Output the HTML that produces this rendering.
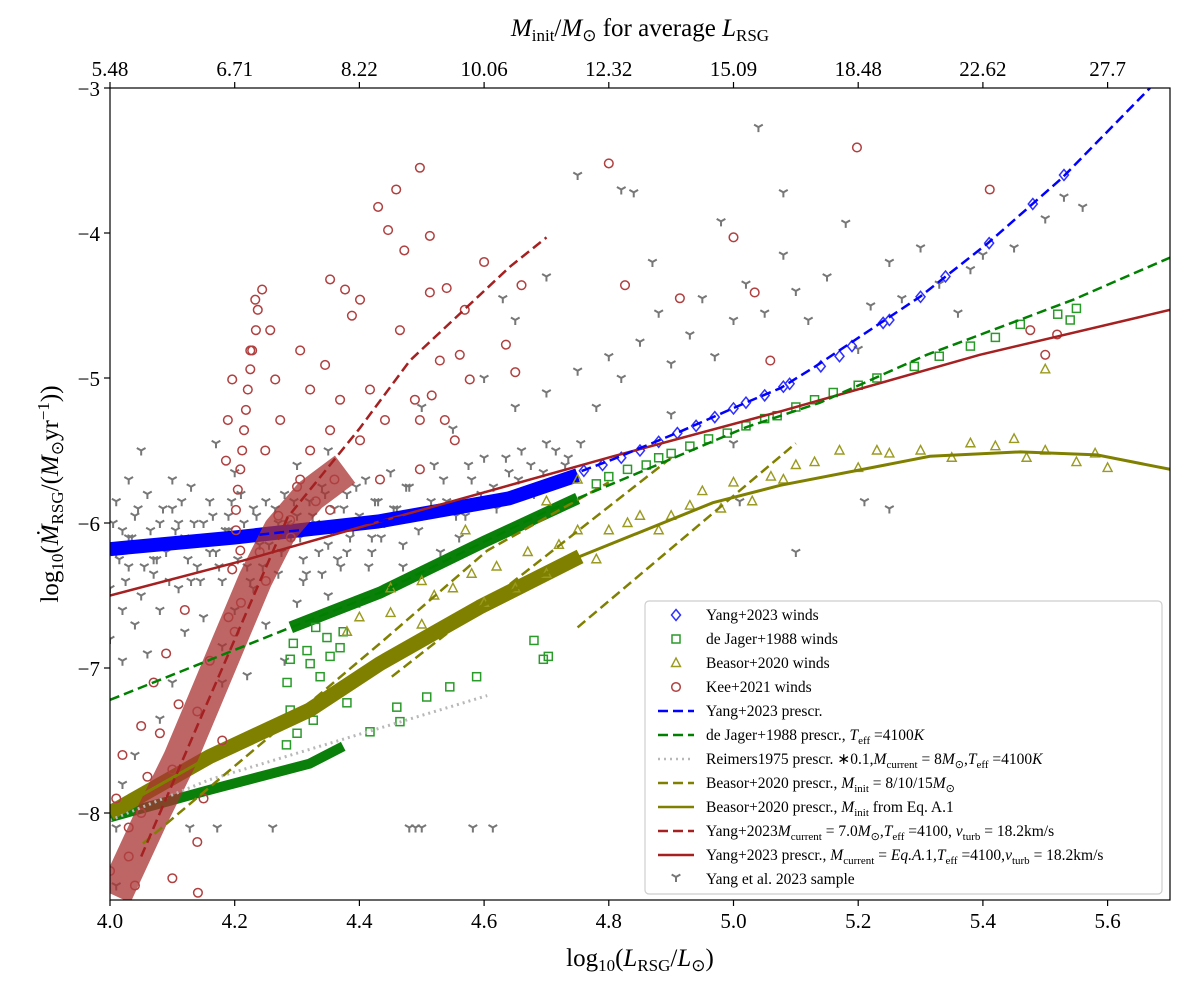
<!DOCTYPE html>
<html><head><meta charset="utf-8"><style>
html,body{margin:0;padding:0;background:#fff;}
svg{display:block;font-family:"Liberation Serif",serif;}
</style></head><body>
<svg id="chart" width="1200" height="1000" viewBox="0 0 1200 1000" xmlns="http://www.w3.org/2000/svg">
<defs><clipPath id="plotclip"><rect x="110" y="88" width="1060" height="812"/></clipPath></defs>
<rect x="0" y="0" width="1200" height="1000" fill="#fff"/>
<g id="marks" clip-path="url(#plotclip)"></g>
<rect x="110" y="88" width="1060" height="812" fill="none" stroke="#000" stroke-width="1.2"/>
<g id="axes"></g>
<text x="640" y="966" font-size="25" text-anchor="middle">log<tspan font-size="17" dy="5">10</tspan><tspan dy="-5">(</tspan><tspan font-style="italic">L</tspan><tspan font-size="17" dy="5">RSG</tspan><tspan dy="-5">/</tspan><tspan font-style="italic">L</tspan><tspan font-size="17" dy="5">⊙</tspan><tspan dy="-5">)</tspan></text>
<text x="640" y="36" font-size="25" text-anchor="middle"><tspan font-style="italic">M</tspan><tspan font-size="17" dy="5">init</tspan><tspan dy="-5">/</tspan><tspan font-style="italic">M</tspan><tspan font-size="17" dy="5">⊙</tspan><tspan dy="-5"> for average </tspan><tspan font-style="italic">L</tspan><tspan font-size="17" dy="5">RSG</tspan></text>
<text transform="translate(58,494) rotate(-90)" font-size="25" text-anchor="middle">log<tspan font-size="17" dy="5">10</tspan><tspan dy="-5">(</tspan><tspan font-style="italic">Ṁ</tspan><tspan font-size="17" dy="5">RSG</tspan><tspan dy="-5">/(</tspan><tspan font-style="italic">M</tspan><tspan font-size="17" dy="5">⊙</tspan><tspan dy="-5">yr</tspan><tspan font-size="17" dy="-9">−1</tspan><tspan dy="9">))</tspan></text>
<g id="legend"></g>
</svg>
<script>
// ---- data ----
const xTicks = [4.0,4.2,4.4,4.6,4.8,5.0,5.2,5.4,5.6];
const xTickLabels = ["4.0","4.2","4.4","4.6","4.8","5.0","5.2","5.4","5.6"];
const topTickLabels = ["5.48","6.71","8.22","10.06","12.32","15.09","18.48","22.62","27.7"];
const yTicks = [-3,-4,-5,-6,-7,-8];
const yTickLabels = ["−3","−4","−5","−6","−7","−8"];

const yangPrescL = [4.0,4.2,4.43,4.64,4.807,4.914,5.02,5.075,5.128,5.243,5.299,5.408,5.527,5.668];
const yangPrescV = [-6.18,-6.1,-5.99,-5.83,-5.56,-5.37,-5.17,-5.07,-4.93,-4.6,-4.44,-4.07,-3.62,-3.0];
const yangBandL = [4.0,4.2,4.43,4.64,4.75];
const yangBandV = [-6.18,-6.1,-5.99,-5.83,-5.67];
const yangDiamondL = [4.76,4.79,4.82,4.85,4.88,4.91,4.94,4.97,5.0,5.02,5.05,5.08,5.09,5.14,5.17,5.19,5.24,5.25,5.3,5.34,5.41,5.48,5.53];
const yangDiamondV = [-5.64,-5.6,-5.55,-5.5,-5.44,-5.38,-5.33,-5.27,-5.21,-5.17,-5.12,-5.06,-5.04,-4.92,-4.85,-4.78,-4.62,-4.6,-4.44,-4.3,-4.07,-3.8,-3.6];

const yangEqL = [4.0,4.213,4.433,4.807,5.075,5.395,5.7];
const yangEqV = [-6.5,-6.26,-5.99,-5.54,-5.23,-4.84,-4.53];
const yang7L = [4.05,4.15,4.285,4.4,4.481,4.642,4.7];
const yang7V = [-8.3,-7.3,-5.96,-5.35,-4.88,-4.23,-4.03];

const jagerPrescL = [4.0,4.29,4.433,4.70,4.861,5.02,5.139,5.31,5.545,5.7];
const jagerPrescV = [-7.22,-6.72,-6.48,-5.92,-5.63,-5.34,-5.17,-4.84,-4.46,-4.17];
const jagerBandL = [4.29,4.433,4.6,4.75];
const jagerBandV = [-6.72,-6.48,-6.13,-5.83];
const jagerLowBandL = [4.0,4.16,4.32,4.374];
const jagerLowBandV = [-8.03,-7.84,-7.66,-7.54];
const jagerSqL = [4.78,4.8,4.83,4.86,4.88,4.9,4.93,4.96,4.99,5.02,5.05,5.07,5.1,5.13,5.16,5.2,5.23,5.29,5.33,5.38,5.42,5.46,5.52,5.55,5.54,
  4.417,4.46,4.508,4.545,4.588,4.465,4.33,4.348,4.374,4.316,4.321,4.337,4.38,4.326,4.30,4.283,4.289,4.284,4.289,4.294,4.353,4.369,4.68,4.695,4.703];
const jagerSqV = [-5.73,-5.68,-5.63,-5.6,-5.55,-5.52,-5.47,-5.42,-5.38,-5.33,-5.28,-5.26,-5.2,-5.15,-5.1,-5.05,-5.0,-4.92,-4.85,-4.78,-4.72,-4.63,-4.56,-4.52,-4.6,
  -7.44,-7.27,-7.2,-7.13,-7.06,-7.37,-6.72,-6.79,-6.75,-6.88,-6.97,-7.06,-7.24,-7.36,-7.45,-7.53,-7.29,-7.1,-6.94,-6.83,-6.92,-6.86,-6.81,-6.94,-6.92];

const reimersL = [4.0,4.16,4.605];
const reimersV = [-8.05,-7.77,-7.19];

const beasorEqL = [4.0,4.16,4.32,4.433,4.593,4.754,4.967,5.075,5.315,5.46,5.583,5.7];
const beasorEqV = [-8.0,-7.61,-7.29,-6.97,-6.58,-6.23,-5.86,-5.74,-5.54,-5.51,-5.53,-5.63];
const beasorBandL = [4.0,4.16,4.32,4.433,4.593,4.754];
const beasorBandV = [-8.0,-7.61,-7.29,-6.97,-6.58,-6.23];
const beasor8L = [4.053,4.433,4.605,4.80];
const beasor8V = [-8.21,-6.83,-6.19,-5.72];
const beasor10L = [4.452,4.9];
const beasor10V = [-7.06,-5.55];
const beasor15L = [4.75,5.10];
const beasor15V = [-6.72,-5.45];
const beasorTriL = [4.45,4.5,4.52,4.55,4.58,4.6,4.62,4.65,4.67,4.7,4.72,4.75,4.78,4.8,4.83,4.85,4.88,4.9,4.93,4.95,4.98,5.0,5.03,5.06,5.08,5.1,5.13,5.17,5.2,5.23,5.25,5.3,5.35,5.38,5.42,5.45,5.47,5.5,5.55,5.58,5.6,5.5,4.7,4.75,4.57,4.5,4.45,4.4,4.38];
const beasorTriV = [-6.62,-6.7,-6.5,-6.45,-6.35,-6.55,-6.3,-6.45,-6.2,-6.35,-6.15,-6.05,-6.25,-6.05,-6.0,-5.95,-6.05,-5.95,-5.88,-5.78,-5.9,-5.72,-5.85,-5.68,-5.7,-5.6,-5.58,-5.5,-5.62,-5.5,-5.52,-5.5,-5.55,-5.45,-5.47,-5.42,-5.55,-5.5,-5.58,-5.52,-5.62,-4.94,-5.85,-5.7,-6.05,-6.4,-6.45,-6.65,-6.75];

const keeBandL = [4.008,4.064,4.112,4.152,4.192,4.233,4.273,4.321,4.377];
const keeBandV = [-8.57,-8.05,-7.63,-7.22,-6.81,-6.39,-6.05,-5.81,-5.63];
const keeL = [4.43,4.459,4.497,4.446,4.472,4.513,4.54,4.569,4.513,4.60,4.66,4.635,4.65,4.80,4.826,4.914,5.0,5.034,5.059,5.198,5.411,5.476,5.50,5.519,
  4.561,4.577,4.529,4.516,4.489,4.465,4.401,4.377,4.353,4.388,4.345,4.305,4.321,4.369,4.417,4.441,4.497,4.537,4.553,4.401,4.353,4.321,4.305,4.273,4.257,4.265,4.233,4.225,4.249,4.141,4.289,4.353,4.433,4.497,
  4.244,4.237,4.234,4.228,4.225,4.221,4.218,4.215,4.212,4.209,4.205,4.202,4.202,4.209,4.196,4.189,4.196,4.186,
  4.01,4.02,4.03,4.05,4.07,4.09,4.12,4.0,4.04,4.1,4.15,4.18,4.21,4.14,4.06,
  4.03,4.08,4.11,4.16,4.19,4.24,4.27,4.3,4.05,4.1,4.14,4.2,4.25,4.29,4.33,4.36];
const keeV = [-3.82,-3.70,-3.55,-3.98,-4.12,-4.02,-4.38,-4.53,-4.41,-4.2,-4.36,-4.77,-4.96,-3.52,-4.36,-4.45,-4.03,-4.41,-4.88,-3.41,-3.70,-4.67,-4.84,-4.70,
  -4.84,-5.01,-4.88,-5.12,-5.15,-4.67,-4.46,-4.39,-4.32,-4.57,-4.91,-4.81,-5.08,-5.15,-5.08,-5.29,-5.29,-5.29,-5.43,-5.43,-5.36,-5.50,-5.70,-5.29,-4.67,-5.01,-4.46,-4.81,-5.50,-8.55,-5.98,-5.91,-5.70,-5.63,
  -4.39,-4.53,-4.67,-4.81,-4.94,-5.08,-5.22,-5.36,-5.50,-5.63,-5.77,-5.91,-6.05,-6.19,-6.32,-5.29,-5.01,-5.57,
  -7.9,-7.6,-8.3,-7.4,-7.1,-6.9,-6.6,-8.4,-8.5,-8.45,-7.9,-7.5,-6.55,-8.2,-7.75,
  -8.1,-7.45,-7.25,-6.95,-6.65,-6.2,-5.95,-5.75,-8.0,-7.7,-7.3,-6.75,-6.4,-6.1,-5.85,-5.7];

const sampleL = [4.01,4.02,4.03,4.04,4.05,4.06,4.07,4.08,4.09,4.1,4.11,4.12,4.13,4.14,4.15,4.16,4.17,4.18,4.19,4.2,4.21,4.22,4.23,4.24,4.25,4.26,4.27,4.28,4.29,4.3,4.31,4.32,4.33,4.34,4.35,4.36,4.37,4.38,4.39,4.4,4.41,4.42,4.43,4.44,4.45,4.46,4.47,4.48,4.5,4.52,4.54,4.56,4.58,4.6,4.62,4.64,4.66,4.68,4.7,4.73,
  4.0,4.02,4.01,4.03,4.05,4.04,4.02,4.06,4.1,4.12,4.0,4.08,4.15,4.18,4.2,4.25,4.22,4.3,4.35,4.4,4.28,4.18,4.08,4.04,4.02,4.01,
  4.128,4.172,4.261,4.48,4.49,4.5,4.582,4.614,4.01,
  4.05,4.1,4.17,4.2,4.3,4.35,4.5,4.55,4.6,4.65,4.7,4.75,4.78,4.8,4.82,4.85,4.88,4.9,4.93,4.95,4.97,5.0,5.02,5.05,5.08,5.1,5.12,5.15,5.18,5.2,5.22,5.25,5.27,5.3,5.33,5.36,5.38,5.4,5.45,5.5,5.53,5.56,5.04,4.75,4.82,4.84,4.98,4.87,5.08,4.7,4.65,4.63,4.9,5.0,5.21,5.25,5.1,5.01,
  4.03,4.07,4.11,4.13,4.16,4.19,4.23,4.27,4.31,4.34,4.38,4.42,4.47,4.53,4.57,
  4.005,4.015,4.025,4.035,4.045,4.055,4.065,4.075,4.085,4.095,4.105,4.115,4.125,4.135,4.145,4.155,4.165,4.175,4.185,4.195,4.205,4.215,4.225,4.235,4.245,4.255,4.265,4.275,4.285,4.295,4.305,4.315,4.325,4.335,4.345,4.355,4.365,4.375,4.385,4.395,4.405,4.415,4.425,4.435,4.455,4.475,4.495,4.515,4.535,4.555,4.575,4.595,4.615,4.635,4.655,4.675,4.695,4.715,4.735,4.755];
const sampleV = [-5.85,-6.05,-6.3,-5.95,-6.15,-5.8,-6.35,-6.0,-6.2,-5.9,-6.45,-6.1,-5.75,-6.3,-6.0,-5.85,-6.2,-6.4,-5.95,-6.1,-5.8,-6.3,-5.9,-6.15,-5.85,-6.05,-6.35,-5.8,-6.1,-5.95,-6.25,-5.85,-6.0,-5.75,-6.15,-5.9,-6.3,-5.8,-6.05,-5.95,-5.7,-6.2,-5.85,-6.0,-5.65,-5.9,-6.15,-5.75,-5.95,-5.6,-5.85,-6.1,-5.7,-5.55,-5.9,-5.65,-5.5,-5.8,-5.45,-5.6,
  -6.45,-6.6,-6.2,-5.7,-6.5,-6.7,-6.95,-6.9,-7.1,-6.75,-6.8,-6.6,-6.65,-6.85,-6.6,-6.7,-7.05,-6.55,-6.5,-6.55,-6.95,-7.1,-7.35,-7.6,-7.8,-8.1,
  -8.1,-8.1,-8.1,-8.1,-8.1,-8.1,-8.1,-8.1,-8.5,
  -5.5,-5.7,-5.45,-5.65,-5.6,-5.5,-5.2,-5.35,-5.0,-5.2,-5.1,-4.95,-5.2,-4.85,-5.0,-4.75,-4.55,-4.9,-4.7,-4.45,-4.85,-4.6,-4.35,-4.55,-4.15,-4.4,-4.6,-4.3,-3.93,-4.8,-4.5,-4.2,-4.45,-4.1,-4.35,-4.55,-4.25,-4.15,-4.1,-3.9,-3.75,-3.82,-3.27,-3.6,-3.7,-3.72,-3.92,-4.2,-3.72,-4.3,-4.6,-4.45,-5.25,-5.45,-5.85,-5.9,-6.2,-5.85,
  -6.1,-6.25,-6.0,-6.4,-6.2,-6.05,-6.45,-6.0,-6.4,-6.35,-6.2,-6.1,-6.3,-6.2,-5.95,
  -6.0,-6.25,-6.4,-6.1,-5.9,-6.3,-6.05,-6.25,-5.9,-6.4,-6.05,-5.85,-6.25,-6.0,-6.4,-6.1,-5.95,-6.3,-6.05,-5.85,-6.25,-6.0,-6.4,-5.95,-6.3,-6.15,-5.9,-6.2,-6.0,-5.85,-6.1,-6.35,-5.95,-6.2,-5.8,-6.05,-6.25,-5.9,-6.1,-5.75,-6.0,-6.3,-5.85,-6.1,-5.9,-5.75,-6.05,-5.85,-5.7,-5.95,-5.6,-5.8,-5.75,-5.55,-5.7,-5.6,-5.65,-5.5,-5.55,-5.45];

// ---- scales ----
const X = L => 110 + (L - 4.0) * 623.5;
const Y = v => 88 + (-3 - v) * 145;
const NS = "http://www.w3.org/2000/svg";
const marks = document.getElementById('marks');
const axes = document.getElementById('axes');
const legend = document.getElementById('legend');
function mk(tag, attrs, parent){ const e=document.createElementNS(NS,tag); for(const k in attrs) e.setAttribute(k,attrs[k]); parent.appendChild(e); return e; }
function pts(Ls,Vs){ return Ls.map((l,i)=>X(l).toFixed(1)+','+Y(Vs[i]).toFixed(1)).join(' '); }

xTicks.forEach((t,i)=>{
  const x=X(t);
  const a=mk('line',{x1:x,x2:x,y1:900,y2:906,stroke:'#000','stroke-width':1.2},axes);
  
  
  const b=mk('text',{x:x,y:928,'font-size':21,'text-anchor':'middle'},axes); b.textContent=xTickLabels[i];
  
  
  const c=mk('line',{x1:x,x2:x,y1:82,y2:88,stroke:'#000','stroke-width':1.2},axes);
  
  
  const d=mk('text',{x:x,y:76,'font-size':21,'text-anchor':'middle'},axes); d.textContent=topTickLabels[i];
  
  
});
yTicks.forEach((t,i)=>{
  const y=Y(t);
  const a=mk('line',{x1:104,x2:110,y1:y,y2:y,stroke:'#000','stroke-width':1.2},axes);
  
  
  const b=mk('text',{x:100,y:y+8,'font-size':21,'text-anchor':'end'},axes); b.textContent=yTickLabels[i];
  
  
});

function ymark(x,y,parent){ const s=5; return mk('path',{d:`M${x},${y} L${x},${y+s} M${x},${y} L${x-s*0.87},${y-s*0.5} M${x},${y} L${x+s*0.87},${y-s*0.5}`,stroke:'#777','stroke-width':2,fill:'none'},parent); }
function diamond(x,y,parent){ return mk('path',{d:`M${x},${y-5.5} L${x+4.5},${y} L${x},${y+5.5} L${x-4.5},${y} Z`,stroke:'#3030ff','stroke-width':1.5,fill:'none'},parent); }
function square(x,y,parent){ return mk('rect',{x:x-4,y:y-4,width:8,height:8,stroke:'#2a9a2a','stroke-width':1.5,fill:'none'},parent); }
function tri(x,y,parent){ return mk('path',{d:`M${x},${y-5} L${x+4.5},${y+3.5} L${x-4.5},${y+3.5} Z`,stroke:'#9a9a20','stroke-width':1.4,fill:'none'},parent); }
function circ(x,y,parent){ return mk('circle',{cx:x,cy:y,r:4.3,stroke:'#b04040','stroke-width':1.5,fill:'none'},parent); }
function band(Ls,Vs,color,w,op,name){ const e=mk('polyline',{points:pts(Ls,Vs),stroke:color,'stroke-width':w,fill:'none','stroke-linecap':'butt','stroke-linejoin':'round',opacity:op},marks);
  
   return e; }
function line(Ls,Vs,color,w,dash,name){ const e=mk('polyline',{points:pts(Ls,Vs),stroke:color,'stroke-width':w,fill:'none','stroke-dasharray':dash},marks);
  
   return e; }

const gS=mk('g',{},marks);


sampleL.forEach((l,i)=>{ ymark(X(l),Y(sampleV[i]),gS); });

band(yangBandL,yangBandV,'#0000ff',14,1,'yang-winds-band');
const gD=mk('g',{},marks);


yangDiamondL.forEach((l,i)=>diamond(X(l),Y(yangDiamondV[i]),gD));

band(jagerBandL,jagerBandV,'#0a800a',12,1,'dejager-winds-band');
band(jagerLowBandL,jagerLowBandV,'#0a800a',10,1,'dejager-winds-low-band');
const gQ=mk('g',{},marks);


jagerSqL.forEach((l,i)=>square(X(l),Y(jagerSqV[i]),gQ));

band(beasorBandL,beasorBandV,'#808000',15,1,'beasor-winds-band');
const gT=mk('g',{},marks);


beasorTriL.forEach((l,i)=>tri(X(l),Y(beasorTriV[i]),gT));

band(keeBandL,keeBandV,'#a83232',34,0.75,'kee-winds-band');
const gK=mk('g',{},marks);


keeL.forEach((l,i)=>circ(X(l),Y(keeV[i]),gK));

line(yangEqL,yangEqV,'#a52020',2.5,'none','yang-eqA1-line');
line(reimersL,reimersV,'#b8b8b8',3,'2,4','reimers-line');
line(beasorEqL,beasorEqV,'#808000',3,'none','beasor-eqA1-line');
line(beasor8L,beasor8V,'#808000',2.5,'10,5','beasor-8msun-line');
line(beasor10L,beasor10V,'#808000',2.5,'10,5','beasor-10msun-line');
line(beasor15L,beasor15V,'#808000',2.5,'10,5','beasor-15msun-line');
line(jagerPrescL,jagerPrescV,'#008000',2.5,'10,5','dejager-presc-line');
line(yang7L,yang7V,'#a52020',2.5,'10,5','yang-7msun-line');
line(yangPrescL,yangPrescV,'#0000ff',2.5,'10,5','yang-presc-line');

mk('rect',{x:645,y:601,width:517,height:293,rx:4,fill:'#fff',stroke:'#ccc','stroke-width':1.2,opacity:0.95},legend);
const legendLabels = [
 'Yang+2023 winds','de Jager+1988 winds','Beasor+2020 winds','Kee+2021 winds','Yang+2023 prescr.',
 'de Jager+1988 prescr., <tspan font-style="italic">T</tspan><tspan font-size="11" dy="4">eff</tspan><tspan dy="-4"> =4100</tspan><tspan font-style="italic">K</tspan>',
 'Reimers1975 prescr. ∗0.1,<tspan font-style="italic">M</tspan><tspan font-size="11" dy="4">current</tspan><tspan dy="-4"> = 8</tspan><tspan font-style="italic">M</tspan><tspan font-size="11" dy="4">⊙</tspan><tspan dy="-4">,</tspan><tspan font-style="italic">T</tspan><tspan font-size="11" dy="4">eff</tspan><tspan dy="-4"> =4100</tspan><tspan font-style="italic">K</tspan>',
 'Beasor+2020 prescr., <tspan font-style="italic">M</tspan><tspan font-size="11" dy="4">init</tspan><tspan dy="-4"> = 8/10/15</tspan><tspan font-style="italic">M</tspan><tspan font-size="11" dy="4">⊙</tspan>',
 'Beasor+2020 prescr., <tspan font-style="italic">M</tspan><tspan font-size="11" dy="4">init</tspan><tspan dy="-4"> from Eq. A.1</tspan>',
 'Yang+2023<tspan font-style="italic">M</tspan><tspan font-size="11" dy="4">current</tspan><tspan dy="-4"> = 7.0</tspan><tspan font-style="italic">M</tspan><tspan font-size="11" dy="4">⊙</tspan><tspan dy="-4">,</tspan><tspan font-style="italic">T</tspan><tspan font-size="11" dy="4">eff</tspan><tspan dy="-4"> =4100, </tspan><tspan font-style="italic">v</tspan><tspan font-size="11" dy="4">turb</tspan><tspan dy="-4"> = 18.2km/s</tspan>',
 'Yang+2023 prescr., <tspan font-style="italic">M</tspan><tspan font-size="11" dy="4">current</tspan><tspan dy="-4"> = </tspan><tspan font-style="italic">Eq.A.</tspan><tspan dy="0">1,</tspan><tspan font-style="italic">T</tspan><tspan font-size="11" dy="4">eff</tspan><tspan dy="-4"> =4100,</tspan><tspan font-style="italic">v</tspan><tspan font-size="11" dy="4">turb</tspan><tspan dy="-4"> = 18.2km/s</tspan>',
 'Yang et al. 2023 sample'];
const legendNames = ['yang-winds','dejager-winds','beasor-winds','kee-winds','yang-presc','dejager-presc','reimers-presc','beasor-fixed-presc','beasor-eqA1-presc','yang-7msun-presc','yang-eqA1-presc','yang-sample'];
legendLabels.forEach((lab,i)=>{
  const y = 615 + i*24;
  const g = mk('g',{},legend);
  
  
  const cx=676;
  if(i===0) diamond(cx,y,g);
  else if(i===1) square(cx,y,g);
  else if(i===2) tri(cx,y,g);
  else if(i===3) circ(cx,y,g);
  else if(i===11) ymark(cx,y-2,g);
  else {
    const styles=[null,null,null,null,['#0000ff','10,5'],['#008000','10,5'],['#b8b8b8','2,4'],['#808000','10,5'],['#808000','none'],['#a52020','10,5'],['#a52020','none']];
    mk('line',{x1:658,x2:694,y1:y,y2:y,stroke:styles[i][0],'stroke-width':2.5,'stroke-dasharray':styles[i][1]},g);
  }
  const t=mk('text',{x:706,y:y+5,'font-size':15.5},g);
  t.innerHTML=lab;
});
</script>
</body></html>
